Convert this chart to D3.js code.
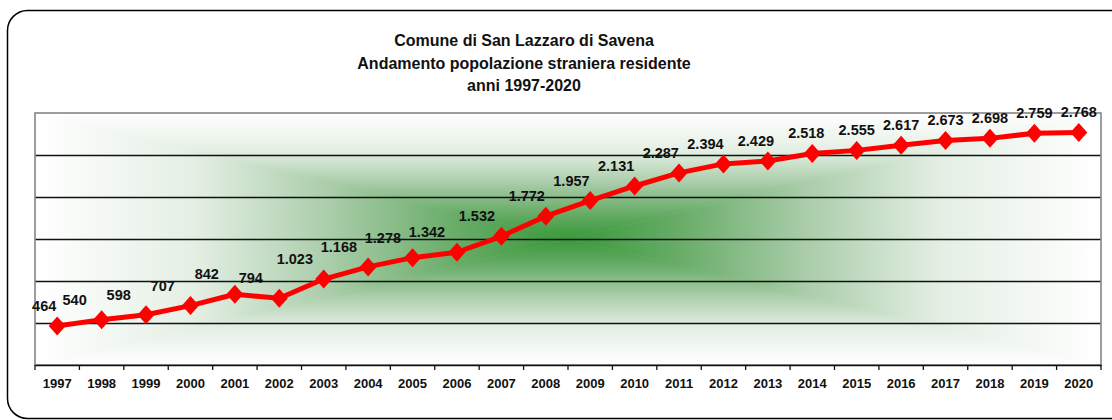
<!DOCTYPE html>
<html>
<head>
<meta charset="utf-8">
<script src="https://cdn.jsdelivr.net/npm/d3@7"></script>
<style>
  body { margin: 0; background: #fff; }
  text { font-family: "Liberation Sans", Arial, sans-serif; font-weight: bold; fill: #111; }
</style>
</head>
<body>
<div id="chart"></div>
<script>
(function(d3) {

var years = ['1997', '1998', '1999', '2000', '2001', '2002', '2003', '2004', '2005', '2006', '2007', '2008',
             '2009', '2010', '2011', '2012', '2013', '2014', '2015', '2016', '2017', '2018', '2019', '2020'];
var residents = [464, 540, 598, 707, 842, 794, 1023, 1168, 1278, 1342, 1532, 1772,
                 1957, 2131, 2287, 2394, 2429, 2518, 2555, 2617, 2673, 2698, 2759, 2768];
var gridValues = [500, 1000, 1500, 2000, 2500];
var titleLines = ['Comune di San Lazzaro di Savena',
                  'Andamento popolazione  straniera residente',
                  'anni 1997-2020'];

var width = 1112;
var height = 420;
var left = 35, right = 1101, top = 113, bottom = 365;

var it = d3.formatLocale({ decimal: ',', thousands: '.', grouping: [3], currency: ['', ' €'] });
var fmt = it.format(',');

var svg = d3.select('#chart')
  .append('svg')
  .attr('width', width)
  .attr('height', height);

// outer rounded frame
svg.append('rect')
  .attr('x', 7.5).attr('y', 10.5)
  .attr('width', 1130).attr('height', 408)
  .attr('rx', 20).attr('ry', 20)
  .style('fill', '#fff')
  .style('stroke', '#000')
  .style('stroke-width', 1.5);

var x = d3.scaleBand().domain(years).range([left, right]);
var y = d3.scaleLinear().domain([0, 3000]).range([bottom, top]);

// plot area background: gradient from center (four triangles)
var cx = (left + right) / 2, cy = (top + bottom) / 2;
var defs = svg.append('defs');
var stops = [[0, '#ffffff'], [0.3, '#e4efe4'], [0.55, '#aacdaa'], [0.8, '#66ab66'], [1, '#389939']];
var sides = [
  { id: 'gTop', p: [[left, top], [right, top], [cx, cy]], g: [cx, top, cx, cy] },
  { id: 'gBot', p: [[left, bottom], [right, bottom], [cx, cy]], g: [cx, bottom, cx, cy] },
  { id: 'gLeft', p: [[left, top], [left, bottom], [cx, cy]], g: [left, cy, cx, cy] },
  { id: 'gRight', p: [[right, top], [right, bottom], [cx, cy]], g: [right, cy, cx, cy] }
];
sides.forEach(function(s) {
  var lg = defs.append('linearGradient')
    .attr('id', s.id)
    .attr('gradientUnits', 'userSpaceOnUse')
    .attr('x1', s.g[0]).attr('y1', s.g[1])
    .attr('x2', s.g[2]).attr('y2', s.g[3]);
  stops.forEach(function(st) {
    lg.append('stop').attr('offset', st[0]).attr('stop-color', st[1]);
  });
  svg.append('path')
    .attr('d', 'M' + s.p.join('L') + 'Z')
    .style('fill', 'url(#' + s.id + ')')
    .style('stroke', 'url(#' + s.id + ')')
    .style('stroke-width', 0.6);
});

// gridlines
svg.selectAll('.grid')
  .data(gridValues)
  .enter()
  .append('line')
  .attr('class', 'grid')
  .attr('x1', left).attr('x2', right)
  .attr('y1', function(d) { return Math.round(y(d)) + 0.5; })
  .attr('y2', function(d) { return Math.round(y(d)) + 0.5; })
  .style('stroke', '#111')
  .style('stroke-width', 1.6);

// plot border
svg.append('rect')
  .attr('x', left).attr('y', top)
  .attr('width', right - left).attr('height', bottom - top)
  .style('fill', 'none')
  .style('stroke', '#858585')
  .style('stroke-width', 1.6);

// x axis
var xAxis = svg.append('g')
  .attr('transform', 'translate(0,' + bottom + ')')
  .call(d3.axisBottom(x).tickSize(0).tickPadding(14));
xAxis.select('.domain').style('stroke', '#111').style('stroke-width', 1.6);
xAxis.selectAll('text')
  .style('font-size', '13px')
  .style('font-family', '"Liberation Sans", Arial, sans-serif')
  .style('font-weight', 'bold')
  .style('fill', '#111');

svg.selectAll('.tickmark')
  .data(years.concat(['end']))
  .enter()
  .append('line')
  .attr('class', 'tickmark')
  .attr('x1', function(d) { return d === 'end' ? right : x(d); })
  .attr('x2', function(d) { return d === 'end' ? right : x(d); })
  .attr('y1', bottom).attr('y2', bottom + 5)
  .style('stroke', '#111')
  .style('stroke-width', 1.3);

// line
var bw = x.bandwidth() / 2;
var line = d3.line()
  .x(function(d, i) { return x(years[i]) + bw; })
  .y(function(d) { return y(d); });

svg.append('path')
  .datum(residents)
  .attr('d', line)
  .style('fill', 'none')
  .style('stroke', '#ff0000')
  .style('stroke-width', 5)
  .style('stroke-linejoin', 'round');

// diamond markers
svg.selectAll('.marker')
  .data(residents)
  .enter()
  .append('path')
  .attr('class', 'marker')
  .attr('d', 'M0,-9.5L8.5,0L0,9.5L-8.5,0Z')
  .attr('transform', function(d, i) {
    return 'translate(' + (x(years[i]) + bw) + ',' + y(d) + ')';
  })
  .style('fill', '#ff0000');

// data labels (placed up and to the left on the rising part, centered later on)
var shift = d3.scaleLinear()
  .domain([0, 1, 9, 11, 15, 18, 23])
  .range([-13, -27, -30, -19, -18, 0, 0]);

svg.selectAll('.label')
  .data(residents)
  .enter()
  .append('text')
  .attr('class', 'label')
  .attr('x', function(d, i) { return x(years[i]) + bw + shift(i); })
  .attr('y', function(d) { return y(d) - 15; })
  .attr('text-anchor', 'middle')
  .style('font-size', '14.5px')
  .text(function(d) { return fmt(d); });

// title
svg.selectAll('.title')
  .data(titleLines)
  .enter()
  .append('text')
  .attr('class', 'title')
  .attr('x', 524)
  .attr('y', function(d, i) { return 46 + i * 22.5; })
  .attr('text-anchor', 'middle')
  .style('font-size', '16px')
  .text(function(d) { return d; });

})(window.d3);
</script>
</body>
</html>
